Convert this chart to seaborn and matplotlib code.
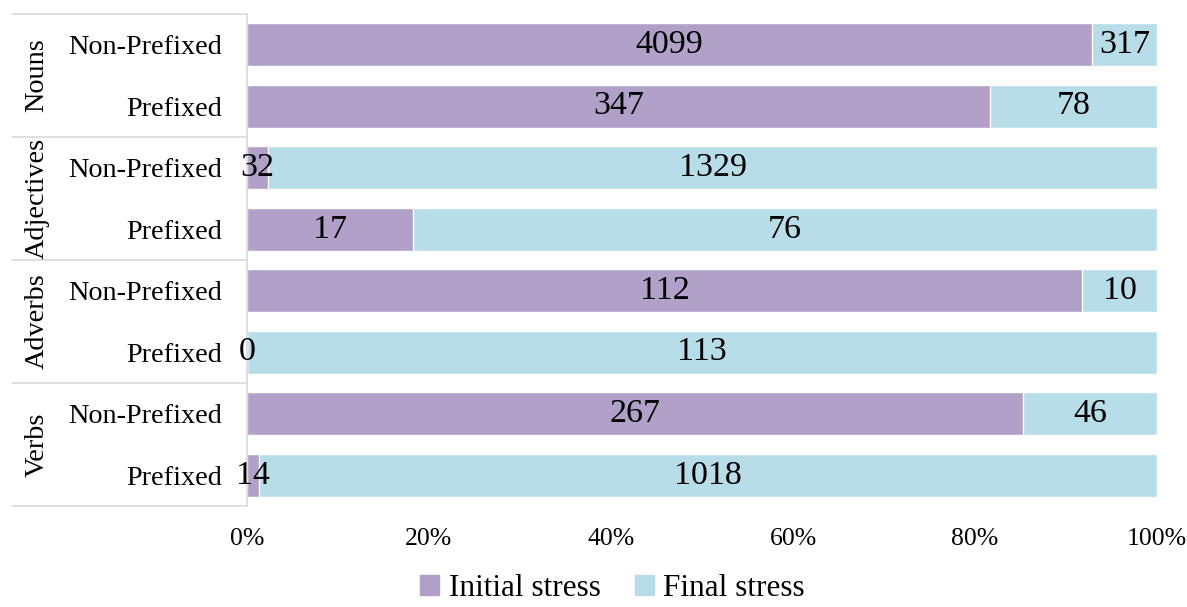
import numpy as np
import pandas as pd
import matplotlib
matplotlib.use("Agg")
import matplotlib.pyplot as plt
import matplotlib.transforms as mtransforms
from matplotlib.lines import Line2D
import seaborn as sns

groups = ["Nouns", "Adjectives", "Adverbs", "Verbs"]
kinds = ["Non-Prefixed", "Prefixed"]
initial = [4099, 347, 32, 17, 112, 0, 267, 14]
final = [317, 78, 1329, 76, 10, 113, 46, 1018]

purple = "#b1a0c7"
blue = "#b7dde8"

sns.set_theme(style="white")
plt.rcParams["font.family"] = ["Liberation Serif", "DejaVu Serif"]
plt.rcParams["text.color"] = "black"
plt.rcParams["xtick.color"] = "black"
plt.rcParams["ytick.color"] = "black"

rows = [f"{g}|{k}" for g in groups for k in kinds]
df = pd.DataFrame({"row": rows, "initial": initial, "final": final})
df["total"] = df["initial"] + df["final"]
df["init_share"] = df["initial"] / df["total"]
df["full"] = 1.0

fig = plt.figure(figsize=(11.87, 6.07), dpi=100)
ax = fig.add_axes([247 / 1187, 1 - 506 / 607, 910 / 1187, 492 / 607])

sns.barplot(data=df, x="full", y="row", order=rows, color=blue, width=0.7,
            saturation=1, ax=ax, orient="h")
sns.barplot(data=df, x="init_share", y="row", order=rows, color=purple, width=0.7,
            saturation=1, ax=ax, orient="h")

# data labels in the middle of each segment
for i, r in df.iterrows():
    s = r["init_share"]
    ax.text(s / 2, i, f"{int(r['initial'])}", ha="center", va="center",
            fontsize=24.5, color="black")
    ax.text((s + 1) / 2, i, f"{int(r['final'])}", ha="center", va="center",
            fontsize=24.5, color="black")

ax.set_xlim(0, 1)
ax.set_ylim(len(rows) - 0.5, -0.5)
ax.set_xticks(np.linspace(0, 1, 6))
ax.set_xticklabels([f"{int(v * 100)}%" for v in np.linspace(0, 1, 6)], fontsize=18.5)
ax.set_yticks(range(len(rows)))
ax.set_yticklabels([r.split("|")[1] for r in rows], fontsize=20.3)
ax.tick_params(axis="x", length=0, pad=16)
ax.tick_params(axis="y", length=0, pad=18)
ax.set_xlabel("")
ax.set_ylabel("")
for side in ["top", "right", "bottom"]:
    ax.spines[side].set_visible(False)
ax.spines["left"].set_color("#d9d9d9")
ax.spines["left"].set_linewidth(1.2)

# multi-level category axis
trans = mtransforms.blended_transform_factory(ax.transAxes, ax.transData)
x0 = (12 - 247) / 910
for yy in [-0.5, 1.5, 3.5, 5.5, 7.5]:
    ax.add_line(Line2D([x0, 0], [yy, yy], transform=trans, color="#d9d9d9",
                       lw=1.2, clip_on=False))
for j, g in enumerate(groups):
    ax.text((37 - 247) / 910, 2 * j + 0.5, g, transform=trans, rotation=90,
            ha="center", va="center", fontsize=20.3)

handles = [plt.Rectangle((0, 0), 1, 1, color=purple),
           plt.Rectangle((0, 0), 1, 1, color=blue)]
fig.legend(handles, ["Initial stress", "Final stress"], loc="lower center",
           bbox_to_anchor=(0.516, -0.04), ncol=2, frameon=False, fontsize=22.5,
           handlelength=0.6, handleheight=0.6, handletextpad=0.3, columnspacing=1.1)

fig.savefig("out.png", dpi=100)
